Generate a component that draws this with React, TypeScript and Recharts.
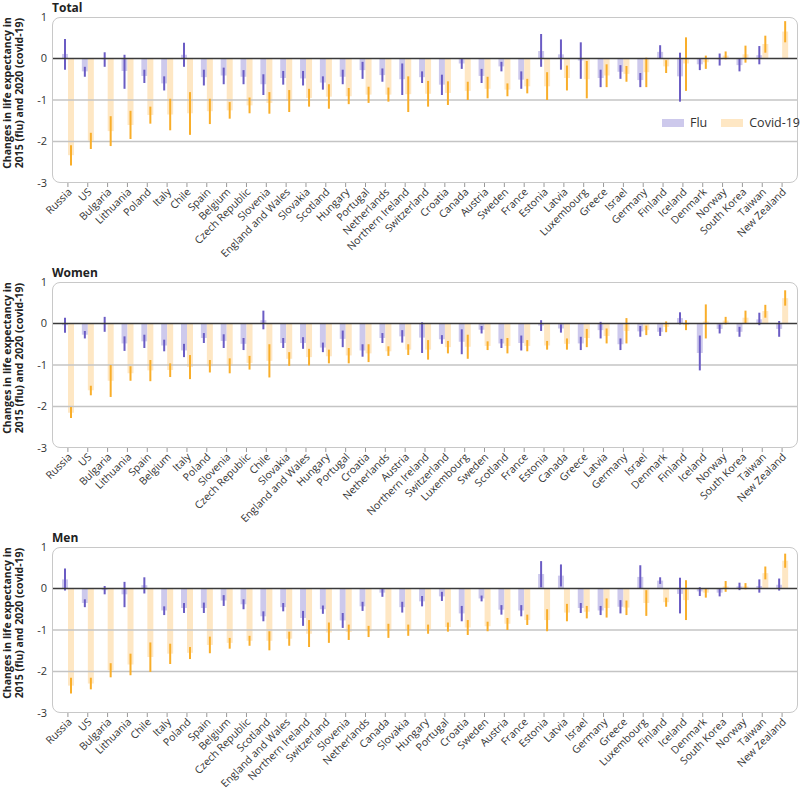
import React from "react";
import { BarChart, Bar, XAxis, YAxis, ErrorBar, ReferenceLine } from "recharts";

// Total
const totalCountries = ["Russia", "US", "Bulgaria", "Lithuania", "Poland", "Italy", "Chile", "Spain", "Belgium", "Czech Republic", "Slovenia", "England and Wales", "Slovakia", "Scotland", "Hungary", "Portugal", "Netherlands", "Northern Ireland", "Switzerland", "Croatia", "Canada", "Austria", "Sweden", "France", "Estonia", "Latvia", "Luxembourg", "Greece", "Israel", "Germany", "Finland", "Iceland", "Denmark", "Norway", "South Korea", "Taiwan", "New Zealand"];
const totalFlu = [0.11, -0.31, -0.02, -0.3, -0.42, -0.6, 0.09, -0.45, -0.41, -0.44, -0.62, -0.47, -0.48, -0.58, -0.44, -0.28, -0.4, -0.5, -0.45, -0.63, -0.12, -0.42, -0.19, -0.51, 0.18, 0.1, -0.05, -0.47, -0.32, -0.52, 0.16, -0.43, -0.14, -0.02, -0.16, 0.08, 0.0];
const totalFluLo = [-0.27, -0.44, -0.2, -0.73, -0.59, -0.77, -0.2, -0.65, -0.62, -0.62, -0.88, -0.63, -0.65, -0.75, -0.62, -0.49, -0.56, -0.88, -0.59, -0.88, -0.25, -0.59, -0.31, -0.73, -0.2, -0.27, -0.49, -0.69, -0.49, -0.69, 0.0, -1.04, -0.28, -0.17, -0.31, -0.14, -0.22];
const totalFluHi = [0.47, -0.2, 0.15, 0.09, -0.27, -0.43, 0.38, -0.27, -0.22, -0.28, -0.38, -0.3, -0.3, -0.43, -0.27, -0.08, -0.24, -0.12, -0.31, -0.39, 0.0, -0.25, -0.08, -0.31, 0.59, 0.46, 0.39, -0.27, -0.16, -0.35, 0.32, 0.14, 0.0, 0.12, -0.01, 0.3, 0.22];
const totalCovid = [-2.33, -1.98, -1.75, -1.6, -1.36, -1.35, -1.32, -1.27, -1.25, -1.13, -1.07, -1.02, -0.95, -0.92, -0.91, -0.87, -0.87, -0.86, -0.85, -0.83, -0.78, -0.73, -0.75, -0.67, -0.67, -0.47, -0.5, -0.41, -0.37, -0.33, -0.19, -0.12, -0.09, 0.07, 0.1, 0.35, 0.65];
const totalCovidLo = [-2.58, -2.18, -2.11, -1.94, -1.57, -1.73, -1.84, -1.58, -1.45, -1.32, -1.33, -1.29, -1.16, -1.21, -1.1, -1.07, -1.04, -1.29, -1.16, -1.12, -1.0, -0.96, -0.91, -0.84, -1.0, -0.77, -0.96, -0.69, -0.56, -0.69, -0.35, -0.78, -0.25, -0.02, -0.1, 0.14, 0.39];
const totalCovidHi = [-2.09, -1.79, -1.39, -1.26, -1.16, -0.97, -0.81, -0.97, -1.05, -0.94, -0.81, -0.76, -0.73, -0.62, -0.71, -0.68, -0.7, -0.43, -0.54, -0.55, -0.56, -0.44, -0.6, -0.49, -0.33, -0.17, -0.06, -0.14, -0.18, 0.02, -0.04, 0.51, 0.07, 0.17, 0.31, 0.55, 0.9];

// Women
const womenCountries = ["Russia", "US", "Bulgaria", "Lithuania", "Spain", "Belgium", "Italy", "Poland", "Slovenia", "Czech Republic", "Chile", "Slovakia", "England and Wales", "Hungary", "Portugal", "Croatia", "Netherlands", "Austria", "Northern Ireland", "Switzerland", "Luxembourg", "Sweden", "Scotland", "France", "Estonia", "Canada", "Greece", "Latvia", "Germany", "Israel", "Denmark", "Finland", "Iceland", "Norway", "South Korea", "Taiwan", "New Zealand"];
const womenFlu = [-0.04, -0.27, -0.02, -0.48, -0.43, -0.53, -0.65, -0.35, -0.42, -0.49, 0.08, -0.47, -0.47, -0.58, -0.37, -0.65, -0.35, -0.31, -0.34, -0.38, -0.44, -0.15, -0.48, -0.47, -0.05, -0.12, -0.48, -0.16, -0.5, -0.19, -0.2, 0.13, -0.71, -0.13, -0.2, 0.1, -0.13];
const womenFluLo = [-0.22, -0.36, -0.2, -0.66, -0.59, -0.67, -0.81, -0.47, -0.59, -0.64, -0.14, -0.59, -0.61, -0.69, -0.57, -0.8, -0.47, -0.46, -0.71, -0.49, -0.74, -0.24, -0.59, -0.65, -0.18, -0.22, -0.64, -0.36, -0.64, -0.32, -0.3, -0.02, -1.13, -0.24, -0.32, -0.04, -0.32];
const womenFluHi = [0.14, -0.18, 0.16, -0.31, -0.27, -0.39, -0.49, -0.23, -0.26, -0.35, 0.31, -0.35, -0.33, -0.46, -0.17, -0.5, -0.23, -0.16, 0.03, -0.28, -0.14, -0.06, -0.37, -0.29, 0.08, -0.02, -0.32, 0.04, -0.36, -0.06, -0.1, 0.27, -0.29, -0.02, -0.08, 0.26, 0.06];
const womenCovid = [-2.15, -1.61, -1.38, -1.2, -1.13, -1.12, -1.05, -1.03, -1.02, -0.95, -0.9, -0.85, -0.81, -0.79, -0.77, -0.72, -0.67, -0.63, -0.63, -0.57, -0.56, -0.54, -0.54, -0.54, -0.53, -0.49, -0.35, -0.3, -0.18, -0.16, -0.08, -0.04, 0.05, 0.07, 0.14, 0.3, 0.61];
const womenCovidLo = [-2.28, -1.73, -1.77, -1.38, -1.39, -1.29, -1.34, -1.18, -1.2, -1.11, -1.3, -1.02, -1.01, -0.96, -0.96, -0.93, -0.78, -0.76, -0.87, -0.72, -0.85, -0.64, -0.72, -0.67, -0.63, -0.63, -0.57, -0.48, -0.48, -0.28, -0.21, -0.16, -0.36, -0.02, 0.0, 0.14, 0.43];
const womenCovidHi = [-2.01, -1.5, -1.0, -1.03, -0.88, -0.96, -0.76, -0.88, -0.84, -0.78, -0.5, -0.69, -0.61, -0.63, -0.59, -0.5, -0.55, -0.5, -0.4, -0.42, -0.27, -0.43, -0.35, -0.4, -0.42, -0.36, -0.13, -0.12, 0.13, -0.05, 0.05, 0.08, 0.46, 0.16, 0.31, 0.45, 0.8];

// Men
const menCountries = ["Russia", "US", "Bulgaria", "Lithuania", "Chile", "Italy", "Poland", "Spain", "Belgium", "Czech Republic", "Scotland", "England and Wales", "Northern Ireland", "Switzerland", "Slovenia", "Netherlands", "Canada", "Slovakia", "Hungary", "Portugal", "Croatia", "Sweden", "Austria", "France", "Estonia", "Latvia", "Israel", "Germany", "Greece", "Luxembourg", "Finland", "Iceland", "Denmark", "South Korea", "Norway", "Taiwan", "New Zealand"];
const menFlu = [0.22, -0.35, -0.04, -0.14, 0.08, -0.53, -0.47, -0.47, -0.29, -0.38, -0.67, -0.45, -0.71, -0.5, -0.77, -0.43, -0.1, -0.45, -0.31, -0.19, -0.6, -0.24, -0.51, -0.53, 0.35, 0.31, -0.47, -0.53, -0.44, 0.28, 0.19, -0.13, -0.07, -0.1, 0.05, 0.06, 0.09];
const menFluLo = [-0.05, -0.45, -0.14, -0.45, -0.12, -0.64, -0.59, -0.59, -0.42, -0.5, -0.79, -0.55, -0.9, -0.61, -0.95, -0.54, -0.2, -0.58, -0.43, -0.3, -0.79, -0.31, -0.63, -0.67, 0.03, 0.05, -0.59, -0.64, -0.6, 0.0, 0.11, -0.6, -0.18, -0.19, -0.04, -0.1, -0.05];
const menFluHi = [0.48, -0.26, 0.06, 0.16, 0.27, -0.43, -0.35, -0.34, -0.16, -0.26, -0.55, -0.35, -0.54, -0.41, -0.59, -0.32, 0.0, -0.32, -0.18, -0.08, -0.42, -0.17, -0.4, -0.4, 0.66, 0.58, -0.35, -0.42, -0.28, 0.56, 0.27, 0.26, 0.03, 0.0, 0.14, 0.22, 0.24];
const menCovid = [-2.34, -2.29, -1.97, -1.83, -1.65, -1.57, -1.55, -1.36, -1.31, -1.26, -1.26, -1.21, -1.09, -1.06, -1.05, -1.03, -1.02, -1.0, -0.98, -0.93, -0.94, -0.91, -0.85, -0.76, -0.76, -0.58, -0.56, -0.47, -0.46, -0.35, -0.33, -0.28, -0.1, 0.05, 0.05, 0.37, 0.67];
const menCovidLo = [-2.53, -2.43, -2.14, -2.09, -2.01, -1.82, -1.7, -1.56, -1.45, -1.38, -1.49, -1.38, -1.41, -1.31, -1.24, -1.17, -1.19, -1.14, -1.09, -1.04, -1.12, -1.03, -1.0, -0.88, -1.03, -0.79, -0.72, -0.7, -0.64, -0.66, -0.44, -0.76, -0.22, -0.08, -0.02, 0.22, 0.5];
const menCovidHi = [-2.15, -2.15, -1.8, -1.57, -1.3, -1.33, -1.41, -1.16, -1.19, -1.14, -1.03, -1.04, -0.76, -0.82, -0.87, -0.9, -0.85, -0.87, -0.87, -0.82, -0.76, -0.8, -0.71, -0.63, -0.5, -0.37, -0.42, -0.24, -0.29, -0.04, -0.22, 0.2, 0.0, 0.18, 0.13, 0.53, 0.84];

const yTicks = [1, 0, -1, -2, -3];

const FLU_BAR = "#cdc9ec";
const FLU_ERR = "#6b5cc4";
const COVID_BAR = "#fee7c4";
const COVID_ERR = "#f9ae2a";
const FONT = "'Open Sans', sans-serif";

const PANEL_H = 265;
const PLOT_TOP = 17;
const PLOT_LEFT = 52;
const PLOT_W = 746;
const PLOT_H = 166;
const XAXIS_H = 86;

function buildRows(cats: string[], flu: number[], fluLo: number[], fluHi: number[], covid: number[], covidLo: number[], covidHi: number[]) {
  return cats.map((name, i) => ({
    name,
    flu: flu[i],
    covid: covid[i],
    fluErr: [Math.max(0, flu[i] - fluLo[i]), Math.max(0, fluHi[i] - flu[i])],
    covidErr: [Math.max(0, covid[i] - covidLo[i]), Math.max(0, covidHi[i] - covid[i])],
  }));
}

const CountryTick = (props: any) => {
  const { x, y, payload } = props;
  return (
    <g transform={`translate(${x + 2},${y + 1})`}>
      <text textAnchor="end" transform="rotate(-45)" dy="0.35em" fontSize={10.5} fill="#333" fontFamily={FONT}>
        {payload.value}
      </text>
    </g>
  );
};

interface PanelProps {
  title: string;
  top: number;
  rows: any[];
  legend?: boolean;
}

const Panel: React.FC<PanelProps> = ({ title, top, rows, legend }) => (
  <div style={{ position: "absolute", left: 0, top, width: 800, height: PANEL_H }}>
    <div style={{ position: "absolute", left: 52, top: 0, fontSize: 12, fontWeight: 700, lineHeight: "15px", color: "#222", fontFamily: FONT }}>
      {title}
    </div>
    <div
      style={{
        position: "absolute",
        left: 13 - 88,
        top: 93 - 12,
        width: 176,
        height: 24,
        transform: "rotate(-90deg)",
        textAlign: "center",
        fontSize: 10.5,
        fontWeight: 700,
        lineHeight: "12px",
        color: "#222",
        fontFamily: FONT,
        whiteSpace: "nowrap",
      }}
    >
      Changes in life expectancy in
      <br />
      2015 (flu) and 2020 (covid-19)
    </div>
    <BarChart
      width={800}
      height={PLOT_TOP + PLOT_H + XAXIS_H}
      data={rows}
      margin={{ top: PLOT_TOP, right: 2, left: 0, bottom: 0 }}
      barGap={0}
      barSize={6}
    >
      <XAxis
        dataKey="name"
        interval={0}
        height={XAXIS_H}
        axisLine={false}
        tickSize={4}
        tickMargin={2}
        tickLine={{ stroke: "#999" }}
        padding={{ left: 6, right: 6 }}
        tick={<CountryTick />}
      />
      <YAxis
        domain={[-3, 1]}
        ticks={yTicks}
        width={PLOT_LEFT}
        axisLine={false}
        tickLine={false}
        tickSize={0}
        tickMargin={5}
        tick={{ fontSize: 11, fill: "#333", fontFamily: FONT }}
      />
      <ReferenceLine y={-1} stroke="#c4c4c4" strokeWidth={1.5} />
      <ReferenceLine y={-2} stroke="#c4c4c4" strokeWidth={1.5} />
      <Bar dataKey="flu" name="Flu" fill={FLU_BAR} isAnimationActive={false}>
        <ErrorBar dataKey="fluErr" width={0} stroke={FLU_ERR} strokeWidth={2} direction="y" isAnimationActive={false} />
      </Bar>
      <Bar dataKey="covid" name="Covid-19" fill={COVID_BAR} isAnimationActive={false}>
        <ErrorBar dataKey="covidErr" width={0} stroke={COVID_ERR} strokeWidth={2} direction="y" isAnimationActive={false} />
      </Bar>
      <ReferenceLine y={0} stroke="#3a3a3a" strokeWidth={1.3} />
    </BarChart>
    <div
      style={{
        position: "absolute",
        left: PLOT_LEFT,
        top: PLOT_TOP,
        width: PLOT_W,
        height: PLOT_H,
        border: "1.5px solid #c8c8c8",
        borderRadius: 8,
        boxSizing: "border-box",
        pointerEvents: "none",
      }}
    />
    {legend && (
      <div style={{ position: "absolute", left: 662, top: 114, display: "flex", alignItems: "center", fontSize: 12.5, color: "#333", fontFamily: FONT }}>
        <span style={{ display: "inline-block", width: 22, height: 8, background: FLU_BAR, marginRight: 6 }} />
        <span style={{ marginRight: 14 }}>Flu</span>
        <span style={{ display: "inline-block", width: 22, height: 8, background: COVID_BAR, marginRight: 6 }} />
        <span>Covid-19</span>
      </div>
    )}
  </div>
);

export default function App() {
  const total = buildRows(totalCountries, totalFlu, totalFluLo, totalFluHi, totalCovid, totalCovidLo, totalCovidHi);
  const women = buildRows(womenCountries, womenFlu, womenFluLo, womenFluHi, womenCovid, womenCovidLo, womenCovidHi);
  const men = buildRows(menCountries, menFlu, menFluLo, menFluHi, menCovid, menCovidLo, menCovidHi);
  return (
    <div style={{ position: "absolute", left: 0, top: 0, width: 800, height: 791, background: "#fff", overflow: "hidden" }}>
      <Panel title="Total" top={0} rows={total} legend />
      <Panel title="Women" top={PANEL_H} rows={women} />
      <Panel title="Men" top={PANEL_H * 2} rows={men} />
    </div>
  );
}
